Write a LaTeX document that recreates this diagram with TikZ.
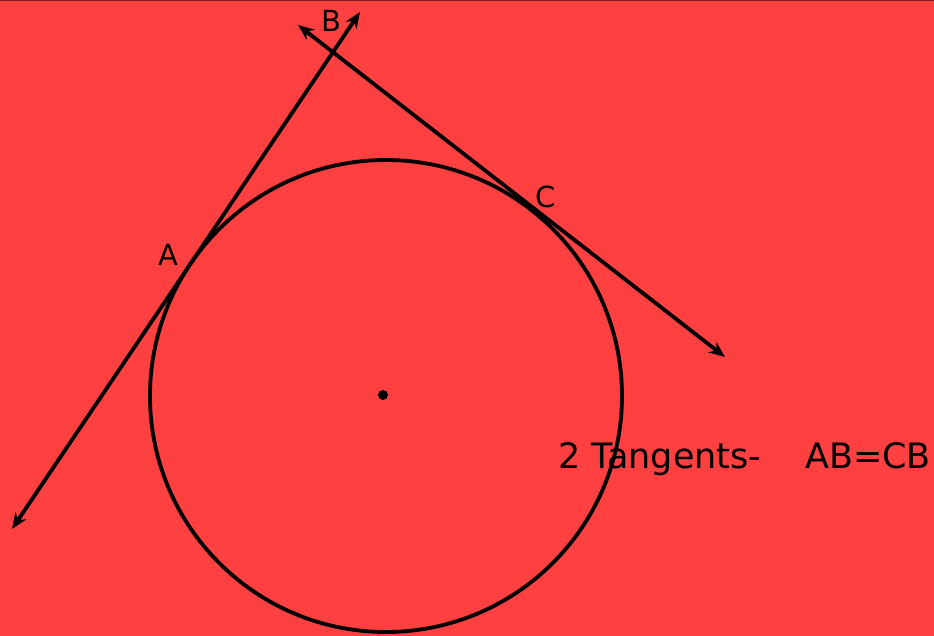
\documentclass[tikz,border=0pt]{standalone}
\usepackage{fontspec}
\setmainfont{DejaVu Sans}
\usetikzlibrary{arrows.meta}
\definecolor{bg}{HTML}{FF4040}
\definecolor{topline}{HTML}{7A2020}
\begin{document}
\begin{tikzpicture}[x=1pt,y=-1pt,
  ln/.style={line width=3.8pt,black},
  tanline/.style={ln,{Stealth[length=16pt,width=13pt]}-{Stealth[length=16pt,width=13pt]}},
  lbl/.style={font=\fontsize{29}{29}\selectfont,inner sep=0pt},
  captext/.style={font=\fontsize{35}{35}\selectfont,inner sep=0pt,anchor=base west}]
\fill[bg] (0,0) rectangle (934,636);
\useasboundingbox (0,0) rectangle (934,636);
\draw[topline,line width=1.5pt] (0,0.75) -- (934,0.75);
\coordinate (O) at (386,396);
\coordinate (A1) at (12,529);
\coordinate (A2) at (360,12);
\coordinate (C1) at (298,25);
\coordinate (C2) at (725,357);
\draw[ln] (O) circle[radius=236pt];
\fill (383,395) circle[radius=5pt];
\draw[tanline] (A1) -- (A2);
\draw[tanline] (C1) -- (C2);
\node[lbl] (B) at (331,21) {B};
\node[lbl] (A) at (168,255) {A};
\node[lbl] (C) at (546,197) {C};
\node[captext] (T) at (558,468) {2 Tangents-\hspace{1.25em}AB=CB};
\end{tikzpicture}
\end{document}
